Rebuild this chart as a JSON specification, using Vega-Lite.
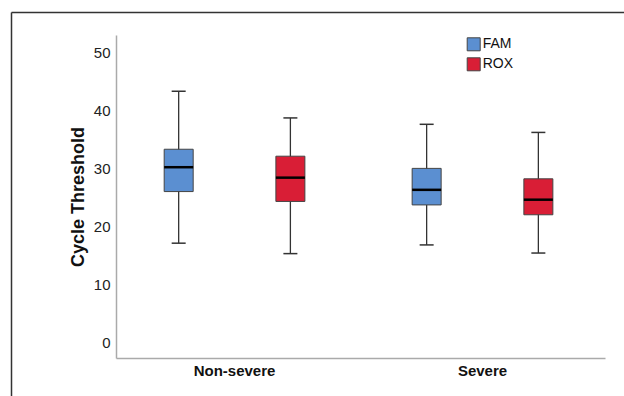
{
  "$schema": "https://vega.github.io/schema/vega-lite/v6.json",
  "width": 613,
  "height": 384,
  "padding": {"left": 11, "top": 12, "right": 0, "bottom": 0},
  "background": "white",
  "config": {
    "font": "Liberation Sans",
    "view": {"stroke": null}
  },
  "data": {
    "values": [
      {"severity": "Non-severe", "dye": "FAM", "min": 17.2, "q1": 26.1, "median": 30.3, "q3": 33.4, "max": 43.4},
      {"severity": "Non-severe", "dye": "ROX", "min": 15.4, "q1": 24.4, "median": 28.5, "q3": 32.2, "max": 38.8},
      {"severity": "Severe", "dye": "FAM", "min": 16.9, "q1": 23.8, "median": 26.4, "q3": 30.1, "max": 37.7},
      {"severity": "Severe", "dye": "ROX", "min": 15.5, "q1": 22.1, "median": 24.7, "q3": 28.3, "max": 36.3}
    ]
  },
  "resolve": {"scale": {"x": "independent", "y": "independent"}, "axis": {"x": "independent", "y": "independent"}},
  "layer": [
    {
      "encoding": {
        "x": {
          "field": "severity",
          "type": "nominal",
          "sort": ["Non-severe", "Severe"],
          "scale": {"range": [105, 594], "paddingInner": 0.044, "paddingOuter": 0.008, "align": 0},
          "axis": {
            "title": null,
            "orient": "bottom",
            "offset": -38,
            "ticks": false,
            "tickSize": 0,
            "domainColor": "#aaa",
            "domainWidth": 1.5,
            "labelFontSize": 15,
            "labelFontWeight": "bold",
            "labelColor": "#111",
            "labelPadding": 5,
            "labelAngle": 0
          }
        },
        "xOffset": {
          "field": "dye",
          "type": "nominal",
          "sort": ["FAM", "ROX"],
          "scale": {"paddingInner": 0, "paddingOuter": 0.061}
        }
      },
      "layer": [
        {
          "mark": {"type": "rule", "color": "#333", "strokeWidth": 1.3},
          "encoding": {
            "y": {
              "field": "min",
              "type": "quantitative",
              "scale": {"domain": [-2.6, 53.1], "range": [346, 23], "nice": false, "zero": false},
              "axis": {
                "title": "Cycle Threshold",
                "orient": "left",
                "offset": -105,
                "values": [0, 10, 20, 30, 40, 50],
                "ticks": false,
                "tickSize": 0,
                "grid": false,
                "domainColor": "#aaa",
                "domainWidth": 1.5,
                "labelFontSize": 15,
                "labelColor": "#222",
                "labelPadding": 6,
                "titleFontSize": 18,
                "titleFontWeight": "bold",
                "titleColor": "#111",
                "titlePadding": 6
              }
            },
            "y2": {"field": "max"}
          }
        },
        {
          "mark": {"type": "bar", "width": 29, "stroke": "#444", "strokeWidth": 1},
          "encoding": {
            "y": {"field": "q1", "type": "quantitative"},
            "y2": {"field": "q3"},
            "fill": {
              "field": "dye",
              "type": "nominal",
              "scale": {"domain": ["FAM", "ROX"], "range": ["#5B8FD1", "#D91E36"]},
              "legend": {
                "orient": "none",
                "legendX": 455.7,
                "legendY": 25.3,
                "title": null,
                "symbolType": "square",
                "symbolSize": 169,
                "symbolStrokeColor": "#444",
                "symbolStrokeWidth": 1,
                "labelFontSize": 14,
                "labelColor": "#111",
                "labelOffset": 2,
                "rowPadding": 2,
                "padding": 0
              }
            }
          }
        },
        {
          "mark": {"type": "tick", "color": "black", "size": 29, "thickness": 2.5, "opacity": 1},
          "encoding": {"y": {"field": "median", "type": "quantitative"}}
        },
        {
          "mark": {"type": "tick", "color": "#333", "size": 14, "thickness": 1.5, "opacity": 1},
          "encoding": {"y": {"field": "min", "type": "quantitative"}}
        },
        {
          "mark": {"type": "tick", "color": "#333", "size": 14, "thickness": 1.5, "opacity": 1},
          "encoding": {"y": {"field": "max", "type": "quantitative"}}
        }
      ]
    },
    {
      "mark": {"type": "point", "opacity": 0},
      "encoding": {
        "x": {
          "field": "min",
          "type": "quantitative",
          "axis": {"orient": "top", "title": null, "labels": false, "ticks": false, "grid": false, "domain": true, "domainColor": "#333", "domainWidth": 1.5}
        },
        "y": {
          "field": "max",
          "type": "quantitative",
          "axis": {"orient": "left", "title": null, "labels": false, "ticks": false, "grid": false, "domain": true, "domainColor": "#333", "domainWidth": 1.5}
        }
      }
    }
  ]
}
